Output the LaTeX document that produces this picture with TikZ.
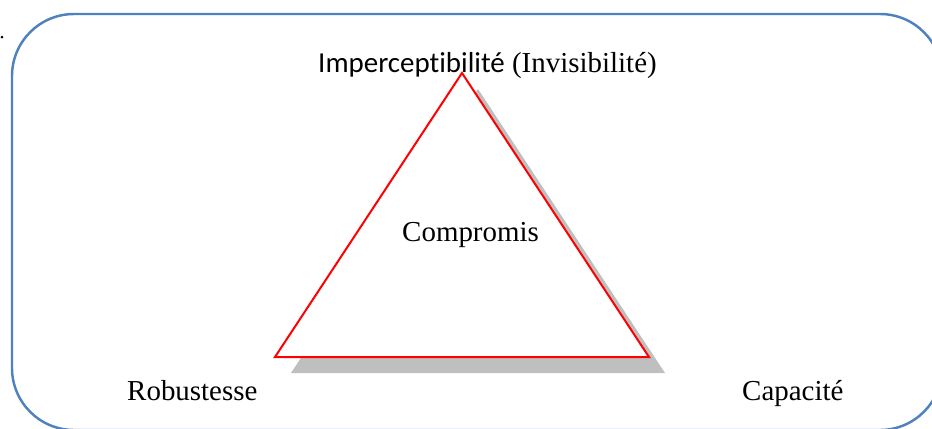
\documentclass[tikz,border=0pt]{standalone}
\usepackage{fontspec}
\setmainfont{Liberation Serif}
\newfontfamily\calibrifont[Ligatures=NoCommon]{Carlito}
\usepackage{xcolor}
\usetikzlibrary{calc}
\definecolor{cadreblue}{RGB}{79,129,189}
\definecolor{trianglered}{RGB}{255,0,0}
\definecolor{ombregray}{RGB}{191,191,191}

\begin{document}
\begin{tikzpicture}[
  font=\fontsize{24.7}{29}\selectfont,
  cadre/.style={draw=cadreblue, line width=2.1pt, rounded corners=1.86cm},
  compromis/.style={draw=trianglered, line width=1.7pt, fill=white, line join=miter},
  ombre/.style={fill=ombregray, draw=none},
  sommet/.style={inner sep=0pt, anchor=base west}
]
  \useasboundingbox (0,0) rectangle (27.96,-12.84);

  % Cadre arrondi et point isolé.
  \draw[cadre] (0.36,-0.42) rectangle (28.26,-12.9);
  \fill (0.06,-1.11) circle (0.045);

  % Sommets du triangle.
  \coordinate (haut) at (13.86,-2.19);
  \coordinate (gauche) at (8.25,-10.71);
  \coordinate (droite) at (19.47,-10.71);

  % Ombre puis triangle.
  \fill[ombre] ($(haut)+(0.48,-0.48)$) -- ($(gauche)+(0.48,-0.48)$)
    -- ($(droite)+(0.48,-0.48)$) -- cycle;
  \draw[compromis] (haut) -- (gauche) -- (droite) -- cycle;

  % Libellés.
  \node[sommet] (invisib) at (9.54,-2.16)
    {{\calibrifont Imperceptibilité} (Invisibilité)};
  \node[sommet] (centre) at (12.06,-7.23) {Compromis};
  \node[sommet] (robust) at (3.81,-12.0) {Robustesse};
  \node[sommet] (capac) at (22.26,-12.02) {Capacité};
\end{tikzpicture}
\end{document}
